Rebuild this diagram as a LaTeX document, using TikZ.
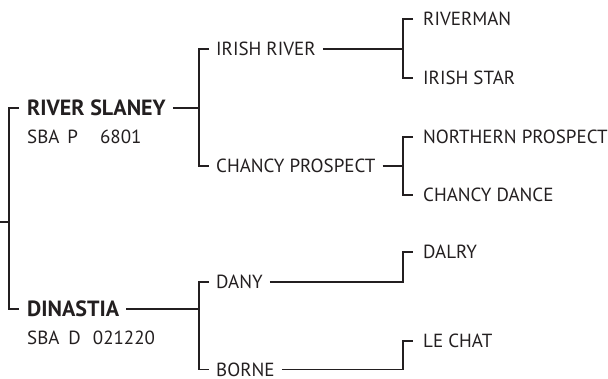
\documentclass[tikz,border=0pt]{standalone}
\usepackage{fontspec}
\setmainfont{PT Sans}
\definecolor{ink}{HTML}{231F20}
\begin{document}
\begin{tikzpicture}[x=1pt,y=-1pt,
  lbl/.style={anchor=west,inner xsep=0pt,inner ysep=0pt,text height=13.3pt,text depth=0pt,
              text=ink,font=\fontsize{19}{22}\selectfont},
  blbl/.style={lbl,text height=15.2pt,font=\fontsize{22}{26}\selectfont\bfseries},
  wire/.style={draw=ink,line width=1.1pt}]
\useasboundingbox (0,0) rectangle (608,379);
% level 1
\node[blbl] (rs) at (27,108) {RIVER SLANEY};
\node[lbl] (sbap) at (27,137) {SBA\hspace{8pt}P\hspace{22pt}6801};
\node[blbl] (di) at (27,309) {DINASTIA};
\node[lbl] (sbad) at (27,338) {SBA\hspace{9pt}D\hspace{12pt}021220};
% level 2
\node[lbl] (ir) at (216,49) {IRISH RIVER};
\node[lbl] (cp) at (216,166) {CHANCY PROSPECT};
\node[lbl] (da) at (216,282) {DANY};
\node[lbl] (bo) at (216,369.5) {BORNE};
% level 3
\node[lbl] (rm) at (423,19) {RIVERMAN};
\node[lbl] (is) at (423,78) {IRISH STAR};
\node[lbl] (np) at (423,137) {NORTHERN PROSPECT};
\node[lbl] (cd) at (423,195) {CHANCY DANCE};
\node[lbl] (dl) at (423,252) {DALRY};
\node[lbl] (lc) at (423,341) {LE CHAT};
% vertical positions
\coordinate (rootend) at (0,222);
\coordinate (v0) at ([xshift=-18pt]rs.west);
\coordinate (v1) at ([xshift=-17pt]ir.west);
\coordinate (v2) at ([xshift=-20pt]rm.west);
% root bracket
\draw[wire] ([xshift=-8pt]rs.west) -- (v0) |- ([xshift=-8pt]di.west);
\draw[wire] (rootend) -- (rootend -| v0);
% RIVER SLANEY bracket
\draw[wire] ([xshift=-7pt]ir.west) -- (v1) |- ([xshift=-7pt]cp.west);
\draw[wire] ([xshift=7pt]rs.east) -- (rs.east -| v1);
% DINASTIA bracket
\draw[wire] ([xshift=-7pt]da.west) -- (da.west -| v1) |- ([xshift=-7pt]bo.west);
\draw[wire] ([xshift=7pt]di.east) -- (di.east -| v1);
% IRISH RIVER bracket
\draw[wire] ([xshift=-10pt]rm.west) -- (v2) |- ([xshift=-10pt]is.west);
\draw[wire] ([xshift=7pt]ir.east) -- (ir.east -| v2);
% CHANCY PROSPECT bracket
\draw[wire] ([xshift=-10pt]np.west) -- (np.west -| v2) |- ([xshift=-10pt]cd.west);
\draw[wire] ([xshift=7pt]cp.east) -- (cp.east -| v2);
% DANY -> DALRY
\draw[wire] ([xshift=7pt]da.east) -| ([xshift=-20pt]dl.west) -- ([xshift=-10pt]dl.west);
% BORNE -> LE CHAT
\draw[wire] ([xshift=7pt]bo.east) -| ([xshift=-20pt]lc.west) -- ([xshift=-10pt]lc.west);
\end{tikzpicture}
\end{document}
